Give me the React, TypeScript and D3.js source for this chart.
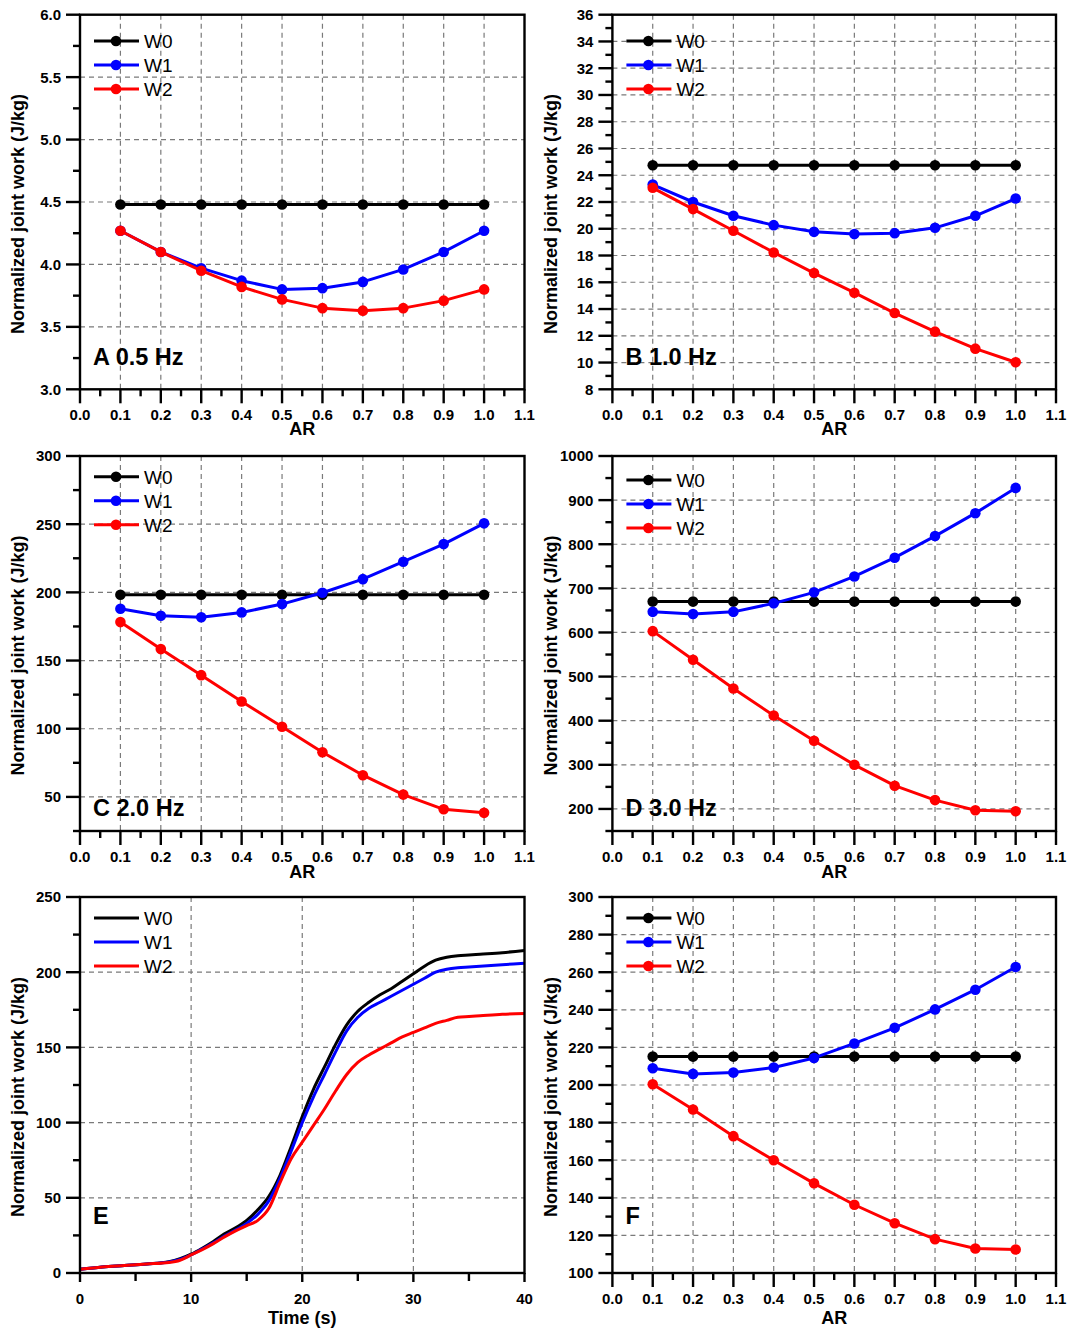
import React from "react";
import * as d3 from "d3";

// ---------- DATA ----------
const AR = [0.1, 0.2, 0.3, 0.4, 0.5, 0.6, 0.7, 0.8, 0.9, 1.0];
const xTicksAR = [0, 0.1, 0.2, 0.3, 0.4, 0.5, 0.6, 0.7, 0.8, 0.9, 1.0, 1.1];

const A_W0 = [4.48, 4.48, 4.48, 4.48, 4.48, 4.48, 4.48, 4.48, 4.48, 4.48];
const A_W1 = [4.27, 4.1, 3.97, 3.87, 3.8, 3.81, 3.86, 3.96, 4.1, 4.27];
const A_W2 = [4.27, 4.1, 3.95, 3.82, 3.72, 3.65, 3.63, 3.65, 3.71, 3.8];

const B_W0 = [24.75, 24.75, 24.75, 24.75, 24.75, 24.75, 24.75, 24.75, 24.75, 24.75];
const B_W1 = [23.3, 22.0, 20.97, 20.27, 19.77, 19.6, 19.67, 20.07, 20.97, 22.26];
const B_W2 = [23.06, 21.47, 19.85, 18.23, 16.69, 15.22, 13.7, 12.31, 11.04, 10.02];

const C_W0 = [198.3, 198.3, 198.3, 198.3, 198.3, 198.3, 198.3, 198.3, 198.3, 198.3];
const C_W1 = [188, 182.8, 181.8, 185.3, 191.4, 199.7, 209.7, 222.5, 235.4, 250.6];
const C_W2 = [178.2, 158.4, 139.3, 120, 101.4, 82.8, 65.9, 51.7, 40.9, 38.3];

const D_W0 = [670, 670, 670, 670, 670, 670, 670, 670, 670, 670];
const D_W1 = [646.7, 642, 646.7, 666, 691, 727, 769.5, 818.5, 870.4, 927.7];
const D_W2 = [603, 538, 473, 411.7, 354.4, 300, 252.7, 220, 197, 194.7];

const F_W0 = [215.1, 215.1, 215.1, 215.1, 215.1, 215.1, 215.1, 215.1, 215.1, 215.1];
const F_W1 = [208.9, 205.9, 206.6, 209.3, 214.4, 222.1, 230.4, 240.2, 250.7, 262.8];
const F_W2 = [200.4, 187, 172.8, 160, 147.7, 136.3, 126.5, 118, 113, 112.5];

const E_T = [0, 2, 4, 6, 8, 9, 10, 11, 12, 13, 14, 15, 16, 17, 18, 19, 20, 21, 22, 23, 24, 25, 26, 27, 28, 29, 30, 31, 32, 33, 34, 35, 36, 38, 40];
const E_W0 = [2.5, 4, 5, 6, 7.5, 9.5, 12.5, 16.5, 21, 26, 30, 35, 42, 51, 65, 84, 104, 122, 137, 152, 165, 174, 180, 185, 189, 194, 199, 204, 208, 210, 211, 211.5, 212, 213, 214.5];
const E_W1 = [2.5, 4, 5, 6, 7.3, 9, 12, 16, 20, 24.5, 28.5, 33, 39, 48, 63, 81, 100, 117, 132, 147, 161, 170, 176, 180, 184, 188, 192, 196, 200, 202, 203, 203.5, 204, 205, 206];
const E_W2 = [2.5, 4, 5, 6, 7, 8.5, 12, 15.5, 19.5, 24, 28, 31.5, 35, 43, 60, 76, 87, 98, 109, 121, 132, 140, 145, 149, 153, 157, 160, 163, 166, 168, 170, 170.5, 171, 172, 172.5];
const xTicksE = [0, 10, 20, 30, 40];

const seriesNames = ["W0", "W1", "W2"];
const seriesColors = ["#000000", "#0000ff", "#ff0000"];

// ---------- LAYOUT ----------
const FONT = "'Liberation Sans', Arial, Helvetica, sans-serif";
const colX = [[80, 524.5], [612.4, 1056]];
const rowY = [[14.7, 389.3], [456, 831], [897, 1273]];

type Panel = {
  col: number; row: number;
  xDomain: [number, number]; xMajor: number[]; xMinorStep: number; xFmt: (v: number) => string;
  yDomain: [number, number]; yMajorStep: number; yMinorStep: number; yFmt: (v: number) => string;
  x: number[]; series: number[][]; markers: boolean;
  label: string; labelY: number; legendDy: number; xTitle: string; xTitleDy: number;
  majorLen: number; minorLen: number;
};

const f1 = (v: number) => v.toFixed(1);
const f0 = (v: number) => String(Math.round(v));

const panels: Panel[] = [
  { col: 0, row: 0, xDomain: [0, 1.1], xMajor: xTicksAR, xMinorStep: 0.05, xFmt: f1,
    yDomain: [3, 6], yMajorStep: 0.5, yMinorStep: 0.25, yFmt: f1,
    x: AR, series: [A_W0, A_W1, A_W2], markers: true, label: "A 0.5 Hz", labelY: 365, legendDy: 26.3, xTitle: "AR", xTitleDy: 46, majorLen: 14, minorLen: 7 },
  { col: 1, row: 0, xDomain: [0, 1.1], xMajor: xTicksAR, xMinorStep: 0.05, xFmt: f1,
    yDomain: [8, 36], yMajorStep: 2, yMinorStep: 1, yFmt: f0,
    x: AR, series: [B_W0, B_W1, B_W2], markers: true, label: "B 1.0 Hz", labelY: 365, legendDy: 26.3, xTitle: "AR", xTitleDy: 46, majorLen: 14, minorLen: 7 },
  { col: 0, row: 1, xDomain: [0, 1.1], xMajor: xTicksAR, xMinorStep: 0.05, xFmt: f1,
    yDomain: [25, 300], yMajorStep: 50, yMinorStep: 25, yFmt: f0,
    x: AR, series: [C_W0, C_W1, C_W2], markers: true, label: "C 2.0 Hz", labelY: 816, legendDy: 20.7, xTitle: "AR", xTitleDy: 47, majorLen: 14, minorLen: 7 },
  { col: 1, row: 1, xDomain: [0, 1.1], xMajor: xTicksAR, xMinorStep: 0.05, xFmt: f1,
    yDomain: [150, 1000], yMajorStep: 100, yMinorStep: 50, yFmt: f0,
    x: AR, series: [D_W0, D_W1, D_W2], markers: true, label: "D 3.0 Hz", labelY: 816, legendDy: 24, xTitle: "AR", xTitleDy: 47, majorLen: 14, minorLen: 7 },
  { col: 0, row: 2, xDomain: [0, 40], xMajor: xTicksE, xMinorStep: 5, xFmt: f0,
    yDomain: [0, 250], yMajorStep: 50, yMinorStep: 25, yFmt: f0,
    x: E_T, series: [E_W0, E_W1, E_W2], markers: false, label: "E", labelY: 1224, legendDy: 21, xTitle: "Time (s)", xTitleDy: 51, majorLen: 9, minorLen: 8 },
  { col: 1, row: 2, xDomain: [0, 1.1], xMajor: xTicksAR, xMinorStep: 0.05, xFmt: f1,
    yDomain: [100, 300], yMajorStep: 20, yMinorStep: 10, yFmt: f0,
    x: AR, series: [F_W0, F_W1, F_W2], markers: true, label: "F", labelY: 1224, legendDy: 21, xTitle: "AR", xTitleDy: 51, majorLen: 14, minorLen: 7 },
];

function range(a: number, b: number, step: number): number[] {
  const out: number[] = [];
  const n = Math.round((b - a) / step);
  for (let i = 0; i <= n; i++) out.push(+(a + i * step).toFixed(6));
  return out;
}

function PanelView({ p }: { p: Panel }) {
  const [x0, x1] = colX[p.col];
  const [y0, y1] = rowY[p.row];
  const xs = d3.scaleLinear().domain(p.xDomain).range([x0, x1]);
  const ys = d3.scaleLinear().domain(p.yDomain).range([y1, y0]);
  const yStart = Math.ceil(p.yDomain[0] / p.yMajorStep - 1e-9) * p.yMajorStep;
  const yMajor = range(yStart, p.yDomain[1], p.yMajorStep);
  const yMinor = range(Math.ceil(p.yDomain[0] / p.yMinorStep - 1e-9) * p.yMinorStep, p.yDomain[1], p.yMinorStep)
    .filter((v) => !yMajor.some((m) => Math.abs(m - v) < 1e-6));
  const xMinor = range(p.xDomain[0], p.xDomain[1], p.xMinorStep)
    .filter((v) => !p.xMajor.some((m) => Math.abs(m - v) < 1e-6));
  const eps = 1e-6;
  const gridY = yMajor.filter((v) => v > p.yDomain[0] + eps && v < p.yDomain[1] - eps);
  const gridX = p.xMajor.filter((v) => v > p.xDomain[0] + eps && v < p.xDomain[1] - eps);

  const line = d3.line<number>()
    .x((_, i) => xs(p.x[i]))
    .y((d) => ys(d))
    .curve(p.markers ? d3.curveLinear : d3.curveMonotoneX);

  const gridStyle = { stroke: "#7a7a7a", strokeWidth: 1.2, strokeDasharray: "5,4" } as const;
  const cx = (x0 + x1) / 2;
  const cy = (y0 + y1) / 2 + 12;
  const titleX = p.col === 0 ? 18 : 551;

  return (
    <g>
      {gridY.map((v) => (
        <line key={"gy" + v} x1={x0} x2={x1} y1={ys(v)} y2={ys(v)} style={gridStyle} />
      ))}
      {gridX.map((v) => (
        <line key={"gx" + v} x1={xs(v)} x2={xs(v)} y1={y0} y2={y1} style={gridStyle} />
      ))}
      {p.series.map((s, si) => (
        <g key={"s" + si}>
          <path d={line(s) || ""} fill="none" stroke={seriesColors[si]} strokeWidth={3} strokeLinejoin="round" />
          {p.markers && s.map((v, i) => (
            <circle key={i} cx={xs(p.x[i])} cy={ys(v)} r={5.3} fill={seriesColors[si]} />
          ))}
        </g>
      ))}
      <rect x={x0} y={y0} width={x1 - x0} height={y1 - y0} fill="none" stroke="#000" strokeWidth={2.4} />
      {p.xMajor.map((v) => (
        <g key={"xt" + v}>
          <line x1={xs(v)} x2={xs(v)} y1={y1} y2={y1 + p.majorLen} stroke="#000" strokeWidth={2.4} />
          <text x={xs(v)} y={y1 + 30.5} textAnchor="middle" fontFamily={FONT} fontWeight="bold" fontSize={15}>{p.xFmt(v)}</text>
        </g>
      ))}
      {xMinor.map((v) => (
        <line key={"xm" + v} x1={xs(v)} x2={xs(v)} y1={y1} y2={y1 + p.minorLen} stroke="#000" strokeWidth={2.4} />
      ))}
      {yMajor.map((v) => (
        <g key={"yt" + v}>
          <line x1={x0 - 14} x2={x0} y1={ys(v)} y2={ys(v)} stroke="#000" strokeWidth={2.4} />
          <text x={x0 - 19} y={ys(v) + 5.4} textAnchor="end" fontFamily={FONT} fontWeight="bold" fontSize={15}>{p.yFmt(v)}</text>
        </g>
      ))}
      {yMinor.map((v) => (
        <line key={"ym" + v} x1={x0 - 7} x2={x0} y1={ys(v)} y2={ys(v)} stroke="#000" strokeWidth={2.4} />
      ))}
      <text x={cx} y={y1 + p.xTitleDy} textAnchor="middle" fontFamily={FONT} fontWeight="bold" fontSize={18}>{p.xTitle}</text>
      <text transform={`translate(${titleX},${cy}) rotate(-90)`} textAnchor="middle" dominantBaseline="central" fontFamily={FONT} fontWeight="bold" fontSize={18}>Normalized joint work (J/kg)</text>
      <text x={x0 + 13} y={p.labelY} fontFamily={FONT} fontWeight="bold" fontSize={23.5}>{p.label}</text>
      {seriesNames.map((n, i) => {
        const ly = y0 + p.legendDy + i * 24;
        return (
          <g key={"lg" + n}>
            <line x1={x0 + 14} x2={x0 + 59} y1={ly} y2={ly} stroke={seriesColors[i]} strokeWidth={3} />
            {p.markers && <circle cx={x0 + 36} cy={ly} r={5.3} fill={seriesColors[i]} />}
            <text x={x0 + 64} y={ly + 6.8} fontFamily={FONT} fontSize={19}>{n}</text>
          </g>
        );
      })}
    </g>
  );
}

export default function App() {
  return (
    <svg width={1073} height={1339} viewBox="0 0 1073 1339"
      style={{ position: "absolute", left: 0, top: 0, background: "#fff" }}>
      <rect x={0} y={0} width={1073} height={1339} fill="#fff" />
      {panels.map((p, i) => <PanelView key={i} p={p} />)}
    </svg>
  );
}
